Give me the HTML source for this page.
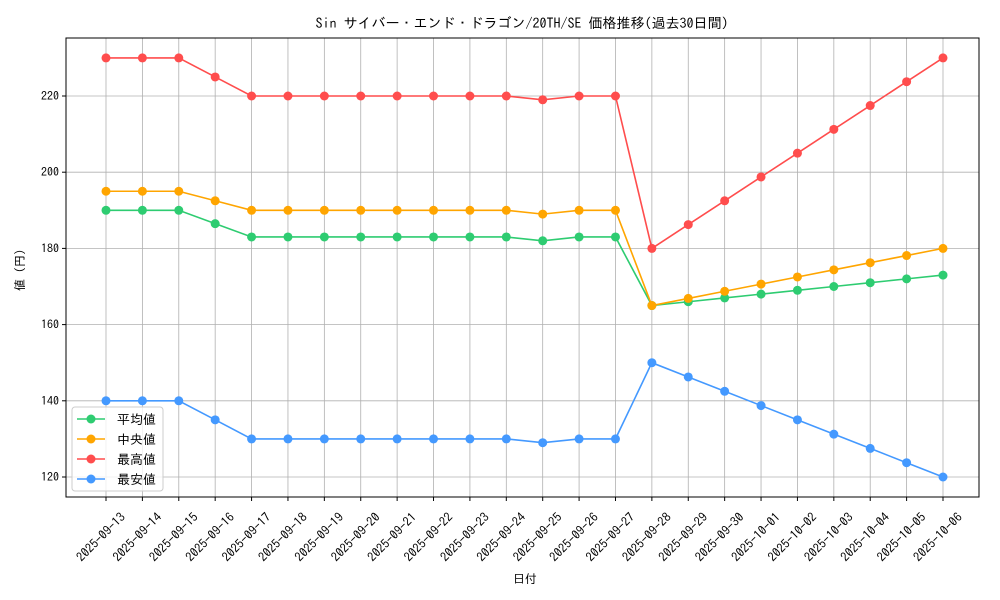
<!DOCTYPE html>
<html><head><meta charset="utf-8"><style>
html,body{margin:0;padding:0;background:#fff;width:1000px;height:600px;overflow:hidden}
svg text{font-family:"IPAGothic","Liberation Sans","Noto Sans CJK JP",sans-serif;fill:#000}
</style></head><body>
<svg id="chart" width="1000" height="600" xmlns="http://www.w3.org/2000/svg"></svg>
<script>
const categories=["2025-09-13","2025-09-14","2025-09-15","2025-09-16","2025-09-17","2025-09-18","2025-09-19","2025-09-20","2025-09-21","2025-09-22","2025-09-23","2025-09-24","2025-09-25","2025-09-26","2025-09-27","2025-09-28","2025-09-29","2025-09-30","2025-10-01","2025-10-02","2025-10-03","2025-10-04","2025-10-05","2025-10-06"];
const meanValues=[190,190,190,186.5,183,183,183,183,183,183,183,183,182,183,183,165,166,167,168,169,170,171,172,173];
const medianValues=[195,195,195,192.5,190,190,190,190,190,190,190,190,189,190,190,165,166.875,168.75,170.625,172.5,174.375,176.25,178.125,180];
const maxValues=[230,230,230,225,220,220,220,220,220,220,220,220,219,220,220,180,186.25,192.5,198.75,205,211.25,217.5,223.75,230];
const minValues=[140,140,140,135,130,130,130,130,130,130,130,130,129,130,130,150,146.25,142.5,138.75,135,131.25,127.5,123.75,120];
const yTicks=[120,140,160,180,200,220];
const seriesNames=["平均値","中央値","最高値","最安値"];

const NS="http://www.w3.org/2000/svg";
const svg=document.getElementById('chart');
const L=66,R=979,T=38,B=497;
const n=categories.length;
const x0=106,x1=943;
function xs(i){return x0+(x1-x0)*i/(n-1);}
function ys(v){return 477-(v-120)*3.81;}
function mk(tag,attrs,parent){const e=document.createElementNS(NS,tag);for(const k in attrs)e.setAttribute(k,attrs[k]);(parent||svg).appendChild(e);return e;}

const grid=mk('g',{});


categories.forEach((c,i)=>{mk('line',{x1:xs(i),x2:xs(i),y1:T,y2:B,stroke:'#b0b0b0','stroke-width':0.8},grid);});
yTicks.forEach(v=>{mk('line',{x1:L,x2:R,y1:ys(v),y2:ys(v),stroke:'#b0b0b0','stroke-width':0.8},grid);});

const frame=mk('rect',{x:L,y:T,width:R-L,height:B-T,fill:'none',stroke:'#000','stroke-width':1});



const xt=mk('g',{});


categories.forEach((c,i)=>{
  const x=xs(i);
  mk('line',{x1:x,x2:x,y1:B,y2:B+4,stroke:'#000'},xt);
  const ax=x+20,ay=B+21;
  const t=mk('text',{x:ax,y:ay,'font-size':12.5,'text-anchor':'end',transform:`rotate(-45 ${ax} ${ay})`},xt);
  
  
  t.textContent=c;
});
const yt=mk('g',{});


yTicks.forEach(v=>{
  const y=ys(v);
  mk('line',{x1:L-4,x2:L,y1:y,y2:y,stroke:'#000'},yt);
  const t=mk('text',{x:L-7,y:y+4,'font-size':12,'text-anchor':'end'},yt);
  
  
  t.textContent=v;
});

const series=[[meanValues,'#2ecc71'],[medianValues,'#ffa500'],[maxValues,'#ff4d4d'],[minValues,'#4499ff']];
series.forEach((s,k)=>{
  const g=mk('g',{});
  
  
  mk('polyline',{points:s[0].map((v,i)=>xs(i)+','+ys(v)).join(' '),fill:'none',stroke:s[1],'stroke-width':1.6},g);
  s[0].forEach((v,i)=>{const c=mk('circle',{cx:xs(i),cy:ys(v),r:4.5,fill:s[1]},g);
    
    });
});

const lg=mk('g',{});


mk('rect',{x:72,y:407,width:91,height:84,rx:3,fill:'#fff','fill-opacity':0.8,stroke:'#ccc'},lg);
seriesNames.forEach((nm,k)=>{
  const y=419+k*20;
  const e=mk('g',{},lg);
  
  
  mk('line',{x1:77,x2:105,y1:y,y2:y,stroke:series[k][1],'stroke-width':1.6},e);
  mk('circle',{cx:91,cy:y,r:4.5,fill:series[k][1]},e);
  const t=mk('text',{x:117,y:y+5,'font-size':13},e);
  t.textContent=nm;
});

const title=mk('text',{x:522,y:28,'font-size':14,'text-anchor':'middle'});


title.textContent='Sin サイバー・エンド・ドラゴン/20TH/SE 価格推移(過去30日間)';
const xl=mk('text',{x:525,y:583,'font-size':12,'text-anchor':'middle'});


xl.textContent='日付';
const yl=mk('text',{x:24,y:270,'font-size':12,'text-anchor':'middle',transform:'rotate(-90 24 270)'});


yl.textContent='値 (円)';
</script>
</body></html>
